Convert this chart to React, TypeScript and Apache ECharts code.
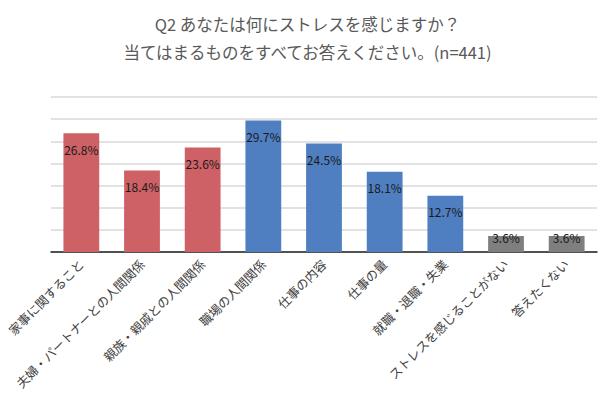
import React, { useEffect, useRef } from "react";
import * as echarts from "echarts";

const titleLines = ["Q2 あなたは何にストレスを感じますか？", "当てはまるものをすべてお答えください。(n=441)"];
const categories = [
  "家事に関すること",
  "夫婦・パートナーとの人間関係",
  "親族・親戚との人間関係",
  "職場の人間関係",
  "仕事の内容",
  "仕事の量",
  "就職・退職・失業",
  "ストレスを感じることがない",
  "答えたくない",
];
const values = [26.8, 18.4, 23.6, 29.7, 24.5, 18.1, 12.7, 3.6, 3.6];
const groups = ["family", "family", "family", "work", "work", "work", "work", "none", "none"];
const groupColors: Record<string, string> = { family: "#cd6166", work: "#4f7fc0", none: "#7f7f7f" };

export default function App() {
  const ref = useRef<HTMLDivElement>(null);
  useEffect(() => {
    if (!ref.current) return;
    const chart = echarts.init(ref.current, undefined, { renderer: "svg" });
    chart.setOption({
      animation: false,
      backgroundColor: "#ffffff",
      title: [
        {
          text: titleLines[0],
          left: "center",
          top: 11,
          textStyle: { fontSize: 16.5, fontWeight: "normal", color: "#595959", fontFamily: "Noto Sans CJK JP" },
        },
        {
          text: titleLines[1],
          left: "center",
          top: 39,
          textStyle: { fontSize: 16.5, fontWeight: "normal", color: "#595959", fontFamily: "Noto Sans CJK JP" },
        },
      ],
      grid: { left: 51, right: 18, top: 97, bottom: 147 },
      xAxis: {
        type: "category",
        data: categories,
        axisLine: { lineStyle: { color: "#222222", width: 1.5 } },
        axisTick: { show: false },
        axisLabel: {
          rotate: 45,
          interval: 0,
          fontSize: 12.5,
          color: "#404040",
          margin: 10,
          fontFamily: "Noto Sans CJK JP",
        },
      },
      yAxis: {
        type: "value",
        min: 0,
        max: 35,
        interval: 5,
        axisLabel: { show: false },
        axisLine: { show: false },
        axisTick: { show: false },
        splitLine: { lineStyle: { color: "#d9d9d9", width: 1.5 } },
      },
      series: [
        {
          type: "bar",
          barWidth: "59%",
          data: values.map((v, i) => {
            const small = groups[i] === "none";
            return {
              value: v,
              itemStyle: { color: groupColors[groups[i]] },
              label: small
                ? { position: "top", distance: -7 }
                : { position: "insideTop", distance: 10 },
            };
          }),
          label: {
            show: true,
            formatter: (p: any) => p.value.toFixed(1) + "%",
            fontSize: 12,
            color: "#1a1a1a",
            fontFamily: "Noto Sans CJK JP",
          },
        },
      ],
    });
    return () => chart.dispose();
  }, []);
  return (
    <div
      style={{
        position: "fixed",
        left: 0,
        top: 0,
        width: 615,
        height: 399,
        boxSizing: "border-box",
        border: "2px solid #cfcfcf",
        background: "#fff",
      }}
    >
      <div ref={ref} style={{ position: "absolute", left: -2, top: -2, width: 615, height: 399 }} />
    </div>
  );
}
